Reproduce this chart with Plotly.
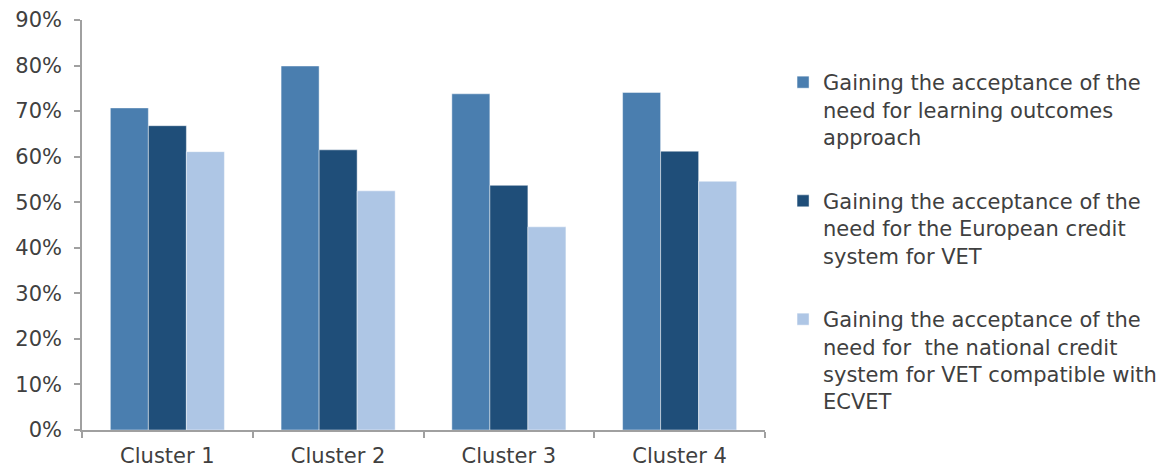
import plotly.graph_objects as go

# Share of respondents per cluster (fractions)
clusters = ["Cluster 1", "Cluster 2", "Cluster 3", "Cluster 4"]
learning_outcomes = [0.707, 0.799, 0.738, 0.741]
european_credit = [0.668, 0.615, 0.537, 0.612]
national_credit = [0.611, 0.525, 0.446, 0.546]

series_names = [
    "Gaining the acceptance of the<br>need for learning outcomes<br>approach",
    "Gaining the acceptance of the<br>need for the European credit<br>system for VET",
    "Gaining the acceptance of the<br>need for  the national credit<br>system for VET compatible with<br>ECVET",
]
series_values = [learning_outcomes, european_credit, national_credit]
series_colors = ["#4A7EAF", "#1F4E79", "#AEC6E5"]
legend_ids = ["legend", "legend2", "legend3"]
legend_tops = [0.8675, 0.6139, 0.3611]

text_color = "#404040"
font_family = "DejaVu Sans"

fig = go.Figure()
for name, vals, color, lg in zip(series_names, series_values, series_colors, legend_ids):
    fig.add_trace(go.Bar(
        x=clusters, y=vals, name=name, legend=lg, showlegend=True,
        marker=dict(color=color, line=dict(color="rgba(255,255,255,0.45)", width=1)),
    ))

legend_common = dict(
    font=dict(family=font_family, size=21, color=text_color),
    bgcolor="rgba(0,0,0,0)", valign="top",
    xref="container", yref="container",
    xanchor="left", yanchor="top", itemclick=False,
)
legend_layout = {
    lg: dict(x=0.6687, y=top, **legend_common)
    for lg, top in zip(legend_ids, legend_tops)
}

fig.update_layout(
    width=1171, height=468,
    showlegend=True,
    margin=dict(l=82, r=406, t=20, b=38, autoexpand=False),
    paper_bgcolor="white", plot_bgcolor="white",
    barmode="group", bargap=0.332, bargroupgap=0,
    font=dict(family=font_family, color=text_color),
    **legend_layout,
    xaxis=dict(
        automargin=False,
        showline=True, linecolor="#A0A0A0", linewidth=1.5,
        ticks="outside", tickson="boundaries", ticklen=6, tickcolor="#A0A0A0", tickwidth=1.5,
        ticklabelstandoff=6,
        tickfont=dict(family=font_family, size=21, color=text_color),
        showgrid=False,
    ),
    yaxis=dict(
        automargin=False,
        range=[0, 0.9], dtick=0.1, tickformat=".0%",
        showline=True, linecolor="#A0A0A0", linewidth=1.5,
        ticks="outside", ticklen=6, tickcolor="#A0A0A0", tickwidth=1.5,
        ticklabelstandoff=8,
        tickfont=dict(family=font_family, size=21, color=text_color),
        showgrid=False, zeroline=False,
    ),
)

fig.write_html("out.html")
